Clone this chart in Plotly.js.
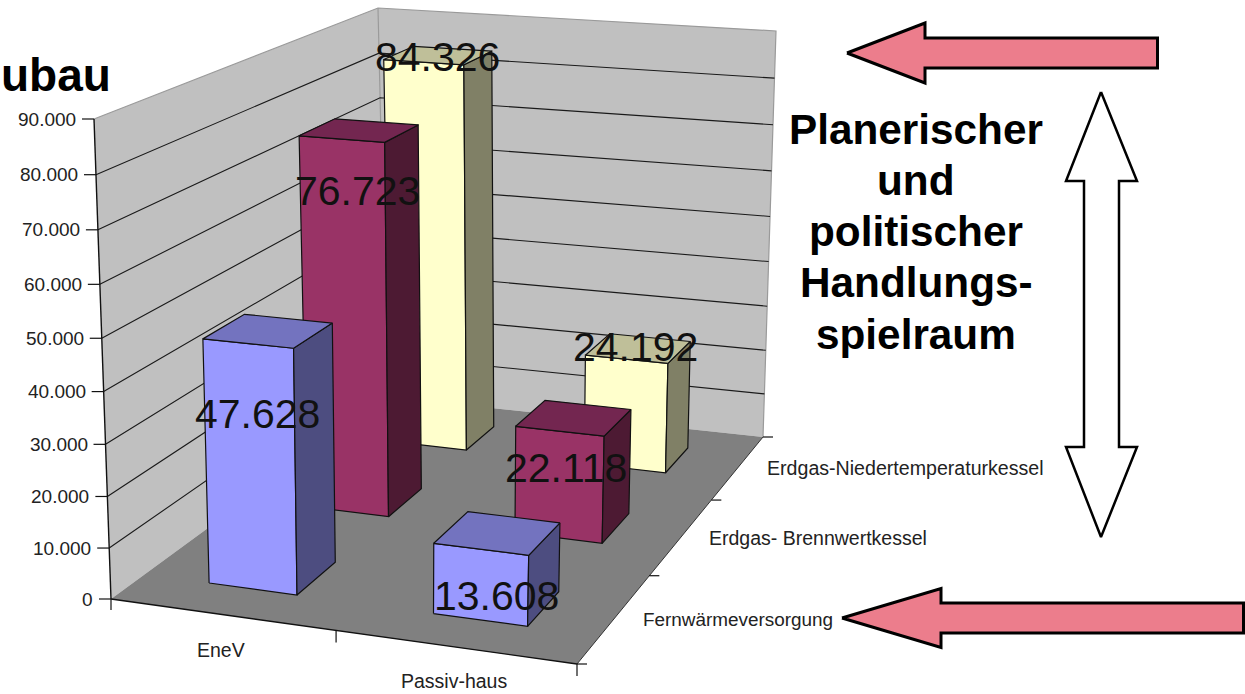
<!DOCTYPE html>
<html><head><meta charset="utf-8">
<script src="https://cdn.plot.ly/plotly-3.0.0.min.js"></script>
<style>html,body{margin:0;padding:0;background:#fff;overflow:hidden}#c{width:1245px;height:694px}</style>
</head><body><div id="c"></div>
<script>
// ---- data ----
var categories = ['EneV', 'Passiv-haus'];
var seriesNames = ['Fernwärmeversorgung', 'Erdgas- Brennwertkessel', 'Erdgas-Niedertemperaturkessel'];
var fernwaerme = [47628, 13608];
var brennwert = [76723, 22118];
var niedertemp = [84326, 24192];
var valueTicks = [0, 10000, 20000, 30000, 40000, 50000, 60000, 70000, 80000, 90000];
var sideNotes = ['Planerischer', 'und', 'politischer', 'Handlungs-', 'spielraum'];
var clippedTitle = 'ubau';

// ---- style and layout, kept apart from the data ----
var palette = [
  {front: '#9999FF', side: '#4D4D80', top: '#7373BF'},
  {front: '#993366', side: '#4D1A33', top: '#732650'},
  {front: '#FFFFCC', side: '#808066', top: '#BFBF99'}
];
var sansFont = 'Liberation Sans, Arial, sans-serif';
// box corners of the chart on the page: floor and ceiling (front-left, front-right, back-right, back-left)
var floorBox = [[111, 599], [577, 664], [763, 437], [387, 397]];
var ceilBox = [[94, 119], [589, 157], [776, 31], [378, 8]];
var valueMax = 90000;

function lerp(a, b, k) { return [a[0] + (b[0] - a[0]) * k, a[1] + (b[1] - a[1]) * k]; }
function quad(q, t, d) { return lerp(lerp(q[0], q[1], t), lerp(q[3], q[2], t), d); }
function project(t, d, v) {
  var tt = t * (1 - 0.068 * (1 - t));
  var dd = d * (1 + 0.25 * (1 - d));
  var r = v / valueMax;
  var vv = r * (1 - 0.05 * (1 - r));
  return lerp(quad(floorBox, tt, dd), quad(ceilBox, tt, dd), vv);
}
function fmt(v) { return String(v).replace(/\B(?=(\d{3})+$)/g, '.'); }

var traces = [];
function poly(pts, fill, line, width) {
  var xs = pts.map(function (p) { return p[0]; }), ys = pts.map(function (p) { return p[1]; });
  xs.push(xs[0]); ys.push(ys[0]);
  traces.push({type: 'scatter', mode: line ? 'lines' : 'none', x: xs, y: ys, fill: 'toself', fillcolor: fill,
    line: {color: line || fill, width: width || 1}, hoverinfo: 'skip', showlegend: false});
}
function seg(pts, color, width) {
  traces.push({type: 'scatter', mode: 'lines', x: pts.map(function (p) { return p[0]; }), y: pts.map(function (p) { return p[1]; }),
    line: {color: color, width: width || 1.2}, hoverinfo: 'skip', showlegend: false});
}

// walls and floor
poly([project(0, 0, 0), project(0, 0, valueMax), project(0, 1, valueMax), project(0, 1, 0)], '#C0C0C0');
poly([project(0, 1, 0), project(0, 1, valueMax), project(1, 1, valueMax), project(1, 1, 0)], '#C0C0C0');
poly([project(0, 0, 0), project(1, 0, 0), project(1, 1, 0), project(0, 1, 0)], '#808080');
seg([project(0, 0, valueMax), project(0, 1, valueMax), project(1, 1, valueMax), project(1, 1, 0)], '#9a9a9a', 1.2);
seg([project(0, 1, valueMax), project(0, 1, 0)], '#9a9a9a', 1.2);

// gridlines on both walls
valueTicks.forEach(function (v) {
  if (v === 0 || v === valueMax) return;
  seg([project(0, 0, v), project(0, 1, v), project(1, 1, v)], '#1a1a1a', 1.1);
});

// bars, back row first
var allSeries = [fernwaerme, brennwert, niedertemp];
for (var j = 2; j >= 0; j--) {
  for (var i = 0; i < 2; i++) {
    var v = allSeries[j][i];
    var t0 = (i + 0.5) / 2 - 0.1, t1 = (i + 0.5) / 2 + 0.1;
    var d0 = (j + 0.5) / 3 - 0.0667, d1 = (j + 0.5) / 3 + 0.0667;
    var c = palette[j];
    poly([project(t0, d0, 0), project(t1, d0, 0), project(t1, d0, v), project(t0, d0, v)], c.front, '#111', 1.2);
    poly([project(t1, d0, 0), project(t1, d1, 0), project(t1, d1, v), project(t1, d0, v)], c.side, '#111', 1.2);
    poly([project(t0, d0, v), project(t1, d0, v), project(t1, d1, v), project(t0, d1, v)], c.top, '#111', 1.2);
  }
}

// axis lines and ticks
seg([project(0, 0, 0), project(0, 0, valueMax)], '#111', 1.4);
seg([project(0, 0, 0), project(1, 0, 0)], '#111', 1.4);
seg([project(1, 0, 0), project(1, 1, 0)], '#333', 1);
var annotations = [];
function label(x, y, text, size, anchor, bold, color) {
  annotations.push({xref: 'x', yref: 'y', x: x, y: y, text: bold ? '<b>' + text + '</b>' : text, showarrow: false, xanchor: anchor, yanchor: 'middle',
    font: {family: sansFont, size: size, color: color || '#222'}});
}
valueTicks.forEach(function (v) {
  var p = project(0, 0, v);
  seg([[p[0] - 12, p[1]], [p[0], p[1]]], '#111', 1.2);
  label(p[0] - 16, p[1], fmt(v), 19, 'right');
});
var o = project(0, 0, 0);
seg([o, [o[0], o[1] + 11]], '#111', 1.2);
[0.5, 1].forEach(function (t) {
  var p = project(t, 0, 0);
  seg([p, [p[0], p[1] + 12]], '#111', 1.2);
});
[0, 1 / 3, 2 / 3, 1].forEach(function (d) {
  var p = project(1, d, 0);
  seg([p, [p[0] + 10, p[1]]], '#111', 1.2);
});

// category and series labels
var categoryLabelAt = [[221, 650], [454, 681]];
var seriesLabelAt = [[641, 619], [707, 538], [765, 468]];
var seriesLabelSize = [18.9, 19.5, 19.6];
categories.forEach(function (s, k) { label(categoryLabelAt[k][0], categoryLabelAt[k][1], s, 19.5, 'center'); });
seriesNames.forEach(function (s, k) { label(seriesLabelAt[k][0], seriesLabelAt[k][1], s, seriesLabelSize[k], 'left'); });

// value labels
var valueLabelAt = [[[257, 414], [496, 596]], [[357, 191], [566, 468]], [[437, 57], [635, 347]]];
allSeries.forEach(function (vals, s) {
  vals.forEach(function (val, k) {
    label(valueLabelAt[s][k][0], valueLabelAt[s][k][1], fmt(val), 41, 'center', false, '#111');
  });
});

// side text
var noteY = [129, 180, 231, 282, 334];
sideNotes.forEach(function (s, k) { label(916, noteY[k], s, 42.3, 'center', true, '#000'); });
label(113, 75, clippedTitle, 46, 'right', true, '#000');

// arrows
function leftArrow(tip, headX, endX, midY, headH, shaftH) {
  return [[tip, midY], [headX, midY - headH], [headX, midY - shaftH], [endX, midY - shaftH], [endX, midY + shaftH], [headX, midY + shaftH], [headX, midY + headH]];
}
poly(leftArrow(847, 925, 1157.5, 53, 30, 15), '#EC7D8C', '#000', 3);
poly(leftArrow(842, 941, 1243.5, 618, 29.5, 15), '#EC7D8C', '#000', 3);
poly([[1101, 92], [1137, 181], [1119, 181], [1119, 447], [1137, 447], [1101, 537], [1066, 447], [1084, 447], [1084, 181], [1066, 181]], '#FFFFFF', '#000', 2.5);

Plotly.newPlot('c', traces, {
  width: 1245, height: 694, margin: {l: 0, r: 0, t: 0, b: 0},
  paper_bgcolor: '#fff', plot_bgcolor: '#fff', showlegend: false,
  xaxis: {range: [0, 1245], visible: false, fixedrange: true},
  yaxis: {range: [694, 0], visible: false, fixedrange: true},
  annotations: annotations
}, {staticPlot: true, displayModeBar: false});
</script></body></html>
